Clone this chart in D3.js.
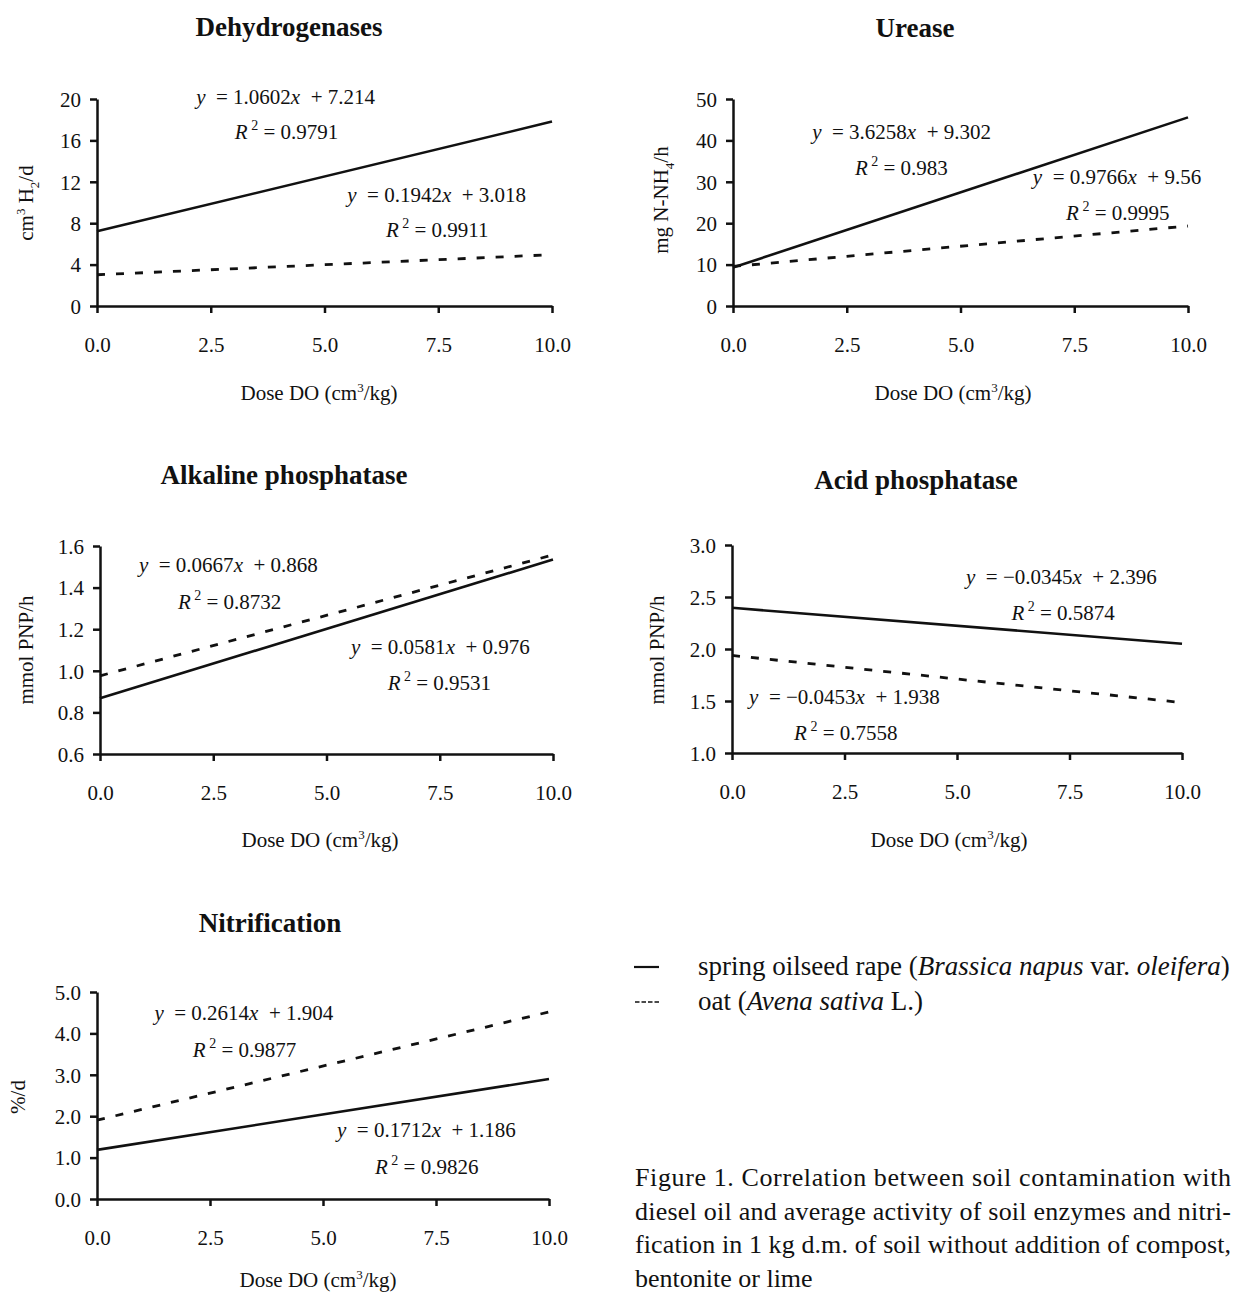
<!DOCTYPE html>
<html>
<head>
<meta charset="utf-8">
<script src="https://cdn.jsdelivr.net/npm/d3@7"></script>
<style>
  body { margin: 0; background: #fff; }
  svg { font-family: "Liberation Serif", "Times New Roman", serif; }
  text { white-space: pre; fill: #111; }
</style>
</head>
<body>
<svg id="chart" width="1234" height="1295"></svg>
<script>
const titles = ["Dehydrogenases", "Urease", "Alkaline phosphatase", "Acid phosphatase", "Nitrification"];
const doseTicks = [0, 2.5, 5, 7.5, 10];
const yDomains = [[0, 20], [0, 50], [0.6, 1.6], [1, 3], [0, 5]];
const yTicks = [
  [0, 4, 8, 12, 16, 20],
  [0, 10, 20, 30, 40, 50],
  [0.6, 0.8, 1.0, 1.2, 1.4, 1.6],
  [1.0, 1.5, 2.0, 2.5, 3.0],
  [0, 1, 2, 3, 4, 5]
];
const yFormats = ["d", "d", ".1f", ".1f", ".1f"];

// trend lines: value at dose 0 and at dose 10
const rapeLine = [[7.214, 17.816], [9.302, 45.56], [0.868, 1.535], [2.396, 2.051], [1.186, 2.898]];
const oatLine = [[3.018, 4.96], [9.56, 19.326], [0.976, 1.557], [1.938, 1.485], [1.904, 4.518]];

// equation texts
const rapeSlope = ["1.0602", "3.6258", "0.0667", "\u22120.0345", "0.1712"];
const rapeIntercept = ["7.214", "9.302", "0.868", "2.396", "1.186"];
const rapeR2 = ["0.9791", "0.983", "0.8732", "0.5874", "0.9826"];
const oatSlope = ["0.1942", "0.9766", "0.0581", "\u22120.0453", "0.2614"];
const oatIntercept = ["3.018", "9.56", "0.976", "1.938", "1.904"];
const oatR2 = ["0.9911", "0.9995", "0.9531", "0.7558", "0.9877"];

// where each equation / R² sits, in the panel's data units [eqX, eqY, r2X, r2Y]
const rapeLabelAt = [[2.18, 20.2, 3.03, 16.8], [1.74, 42.0, 2.68, 33.3], [0.86, 1.509, 1.72, 1.333], [5.2, 2.70, 6.21, 2.35], [5.31, 1.67, 6.15, 0.78]];
const oatLabelAt = [[5.5, 10.72, 6.35, 7.34], [6.59, 31.2, 7.32, 22.5], [5.54, 1.118, 6.35, 0.944], [0.38, 1.543, 1.38, 1.193], [1.27, 4.49, 2.12, 3.60]];

// y axis label pieces: [text, kind]
const yLabels = [
  [["cm", ""], ["3", "sup"], [" H", ""], ["2", "sub"], ["/d", ""]],
  [["mg N-NH", ""], ["4", "sub"], ["/h", ""]],
  [["mmol PNP/h", ""]],
  [["mmol PNP/h", ""]],
  [["%/d", ""]]
];

const legendItems = [
  [["spring oilseed rape (", ""], ["Brassica napus", "i"], [" var. ", ""], ["oleifera", "i"], [")", ""]],
  [["oat (", ""], ["Avena sativa", "i"], [" L.)", ""]]
];
const captionLines = [
  "Figure 1. Correlation between soil contamination with",
  "diesel oil and average activity of soil enzymes and nitri-",
  "fication in 1 kg d.m. of soil without addition of compost,",
  "bentonite or lime"
];

// layout of the five panels
const layout = [
  { x0: 97, x1: 552, top: 99, bot: 306, tx: 289, ty: 27, lx: 26, ly: 203, dx: 319, dy: 393 },
  { x0: 733, x1: 1188, top: 99, bot: 306, tx: 915, ty: 28, lx: 661, ly: 200, dx: 953, dy: 393 },
  { x0: 100, x1: 553, top: 546, bot: 754, tx: 284, ty: 475, lx: 26, ly: 650, dx: 320, dy: 840 },
  { x0: 732, x1: 1182, top: 545, bot: 753, tx: 916, ty: 480, lx: 657, ly: 650, dx: 949, dy: 840 },
  { x0: 97, x1: 549, top: 992, bot: 1199, tx: 270, ty: 923, lx: 18, ly: 1097, dx: 318, dy: 1280 }
];

const svg = d3.select("#chart");

function addPieces(sel, pieces, size) {
  let shift = 0;
  pieces.forEach(([t, kind]) => {
    const ts = sel.append("tspan").text(t);
    let target = 0;
    if (kind === "sup") target = -size * 0.42;
    if (kind === "sub") target = size * 0.25;
    if (kind === "sup" || kind === "sub") ts.attr("font-size", size * 0.62);
    if (kind === "i") ts.attr("font-style", "italic");
    if (target !== shift) ts.attr("dy", target - shift);
    shift = target;
  });
}

function equation(g, x, y, slope, intercept) {
  const t = g.append("text").attr("x", x).attr("y", y).attr("dy", "0.35em").attr("font-size", 21);
  t.append("tspan").attr("font-style", "italic").text("y");
  t.append("tspan").text("  = " + slope);
  t.append("tspan").attr("font-style", "italic").text("x");
  t.append("tspan").text("  + " + intercept);
}

function rsquare(g, x, y, r2) {
  const t = g.append("text").attr("x", x).attr("y", y).attr("dy", "0.35em").attr("font-size", 21);
  t.append("tspan").attr("font-style", "italic").text("R");
  t.append("tspan").attr("font-size", 14).attr("dy", -9).text(" 2");
  t.append("tspan").attr("dy", 9).text(" = " + r2);
}

titles.forEach((title, i) => {
  const L = layout[i];
  const x = d3.scaleLinear().domain([0, 10]).range([L.x0, L.x1]);
  const y = d3.scaleLinear().domain(yDomains[i]).range([L.bot, L.top]);
  const g = svg.append("g");

  g.append("text")
    .attr("x", L.tx).attr("y", L.ty).attr("dy", "0.35em")
    .attr("text-anchor", "middle")
    .attr("font-size", 27).attr("font-weight", "bold")
    .text(title);

  // y axis
  const ya = g.append("g").attr("transform", `translate(${L.x0},0)`)
    .call(d3.axisLeft(y).tickValues(yTicks[i]).tickFormat(d3.format(yFormats[i])).tickSize(7).tickSizeOuter(0).tickPadding(9));
  // x axis
  const xa = g.append("g").attr("transform", `translate(0,${L.bot})`)
    .call(d3.axisBottom(x).tickValues(doseTicks).tickFormat(d3.format(".1f")).tickSize(7).tickSizeOuter(0));

  [ya, xa].forEach(a => {
    a.select(".domain").attr("stroke", "#111").attr("stroke-width", 2.5);
    a.selectAll(".tick line").attr("stroke", "#111").attr("stroke-width", 2.5);
    a.selectAll(".tick text").attr("font-size", 21).attr("fill", "#111")
      .attr("font-family", "Liberation Serif, serif");
  });
  ya.selectAll(".tick text").attr("dy", "0.35em");
  xa.selectAll(".tick text").attr("y", 39).attr("dy", "0.35em");

  // y label
  const yl = g.append("text")
    .attr("transform", `translate(${L.lx},${L.ly}) rotate(-90)`)
    .attr("text-anchor", "middle").attr("dy", "0.35em")
    .attr("font-size", 21);
  addPieces(yl, yLabels[i], 21);

  // x title
  const xt = g.append("text")
    .attr("x", L.dx).attr("y", L.dy).attr("dy", "0.35em")
    .attr("text-anchor", "middle").attr("font-size", 21);
  addPieces(xt, [["Dose DO (cm", ""], ["3", "sup"], ["/kg)", ""]], 21);

  const line = d3.line().x(d => x(d[0])).y(d => y(d[1]));

  g.append("path")
    .attr("d", line([[0, rapeLine[i][0]], [10, rapeLine[i][1]]]))
    .attr("fill", "none").attr("stroke", "#111").attr("stroke-width", 2.6);
  g.append("path")
    .attr("d", line([[0, oatLine[i][0]], [10, oatLine[i][1]]]))
    .attr("fill", "none").attr("stroke", "#111").attr("stroke-width", 2.8)
    .attr("stroke-dasharray", "8,11");

  const r = rapeLabelAt[i], o = oatLabelAt[i];
  equation(g, x(r[0]), y(r[1]), rapeSlope[i], rapeIntercept[i]);
  rsquare(g, x(r[2]), y(r[3]), rapeR2[i]);
  equation(g, x(o[0]), y(o[1]), oatSlope[i], oatIntercept[i]);
  rsquare(g, x(o[2]), y(o[3]), oatR2[i]);
});

// legend
const lg = svg.append("g");
const legendY = [967, 1002];
lg.append("line").attr("x1", 634).attr("x2", 659).attr("y1", legendY[0]).attr("y2", legendY[0])
  .attr("stroke", "#111").attr("stroke-width", 2.2);
lg.append("line").attr("x1", 635).attr("x2", 659).attr("y1", legendY[1]).attr("y2", legendY[1])
  .attr("stroke", "#111").attr("stroke-width", 1.6).attr("stroke-dasharray", "4.5,2");
legendItems.forEach((pieces, i) => {
  const t = lg.append("text").attr("x", 698).attr("y", legendY[i]).attr("dy", "0.3em").attr("font-size", 27);
  addPieces(t, pieces, 27);
});

// caption, justified like the source column
svg.append("g").selectAll("text").data(captionLines).join("text")
  .attr("x", 635)
  .attr("y", (d, i) => 1186 + i * 33.5)
  .attr("font-size", 26)
  .attr("textLength", (d, i) => i < captionLines.length - 1 ? 596 : null)
  .attr("lengthAdjust", "spacing")
  .text(d => d);
</script>
</body>
</html>
